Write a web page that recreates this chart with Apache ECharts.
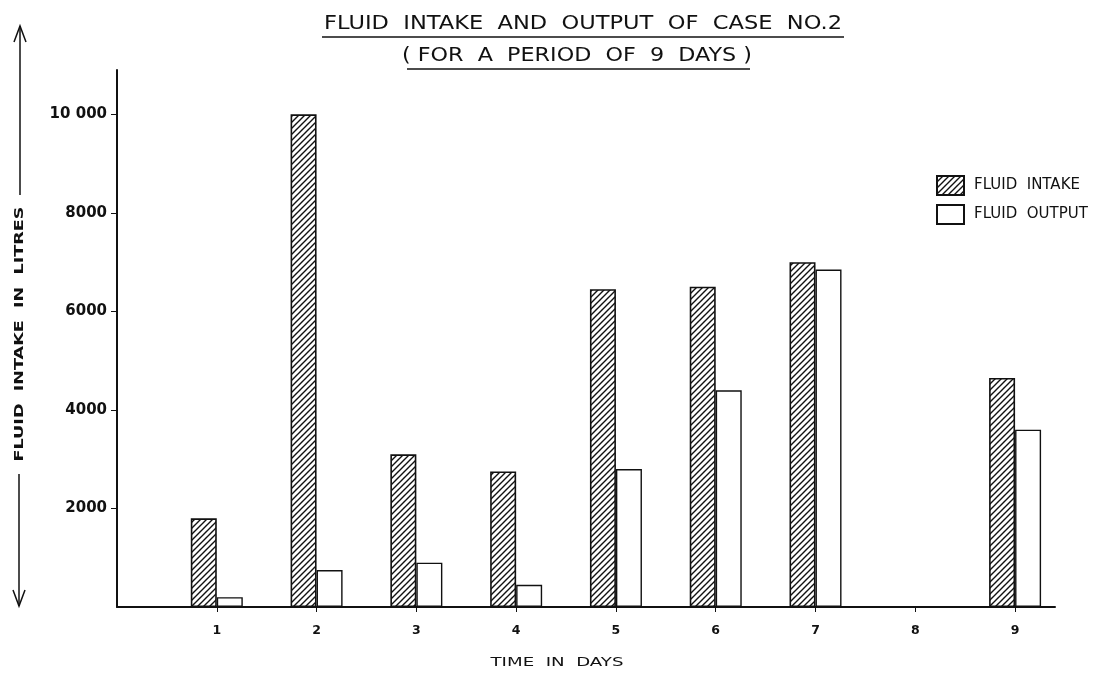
<!DOCTYPE html>
<html>
<head>
<meta charset="utf-8">
<script src="https://cdn.jsdelivr.net/npm/echarts@6/dist/echarts.min.js"></script>
<style>html,body{margin:0;padding:0;background:#fff;overflow:hidden}#c{width:1113px;height:673px}</style>
</head>
<body>
<div id="c"></div>
<script>
// ---- data ----
const days = [1, 2, 3, 4, 5, 6, 7, 8, 9];
const fluidIntake = [1800, 10000, 3100, 2750, 6450, 6500, 7000, null, 4650];
const fluidOutput = [200, 750, 900, 450, 2800, 4400, 6850, null, 3600];
const yTicks = [2000, 4000, 6000, 8000, 10000];
const yTickLabels = ['2000', '4000', '6000', '8000', '10 000'];
const xTickLabels = ['1', '2', '3', '4', '5', '6', '7', '8', '9'];
const seriesNames = ['FLUID  INTAKE', 'FLUID  OUTPUT'];
const titleText = 'FLUID  INTAKE  AND  OUTPUT  OF  CASE  NO.2';
const subtitleText = '( FOR  A  PERIOD  OF  9  DAYS )';
const yName = 'FLUID  INTAKE  IN  LITRES';
const xName = 'TIME  IN  DAYS';

// hatch pattern
const pc = document.createElement('canvas');
pc.width = 6; pc.height = 6;
const g = pc.getContext('2d');
g.fillStyle = '#fff'; g.fillRect(0, 0, 6, 6);
g.strokeStyle = '#111'; g.lineWidth = 1.4;
g.beginPath();
g.moveTo(-1, 7); g.lineTo(7, -1);
g.moveTo(-1, 1); g.lineTo(1, -1);
g.moveTo(5, 7); g.lineTo(7, 5);
g.stroke();

const font = "'DejaVu Sans', sans-serif";
// measure text to stretch lettering horizontally (style only)
const mc = document.createElement('canvas').getContext('2d');
function fitScale(text, size, weight, target) {
  mc.font = (weight || 'normal') + ' ' + size + 'px ' + font;
  return target / mc.measureText(text).width;
}
function stretchedText(text, cx, cy, size, weight, target, rot) {
  return {
    type: 'text', x: cx, y: cy, rotation: rot || 0,
    scaleX: fitScale(text, size, weight, target), scaleY: 1,
    style: {text: text, fontFamily: font, fontSize: size, fontWeight: weight || 'normal',
            fill: '#111', align: 'center', verticalAlign: 'middle'}
  };
}

const chart = echarts.init(document.getElementById('c'), null, {renderer: 'canvas'});

const arrowY1 = 26, arrowY2 = 606;
chart.setOption({
  backgroundColor: '#ffffff',
  animation: false,
  legend: {
    orient: 'vertical', left: 931, top: 170, itemWidth: 27, itemHeight: 19, itemGap: 8,
    icon: 'rect',
    textStyle: {fontFamily: font, fontSize: 15, color: '#111', padding: [0, 0, 0, 5]},
    data: seriesNames
  },
  grid: {left: 117, right: 58, top: 70, bottom: 66, outerBoundsMode: 'none', containLabel: false},
  xAxis: {
    type: 'value', min: 0, max: 9.4,
    axisLine: {show: true, lineStyle: {color: '#111', width: 2}},
    axisTick: {show: true, customValues: days, length: 5, lineStyle: {color: '#111', width: 1}},
    axisLabel: {customValues: days, margin: 17, fontFamily: font, fontSize: 12.5, fontWeight: 'bold', color: '#111',
      formatter: v => xTickLabels[days.indexOf(v)] || ''},
    splitLine: {show: false}
  },
  yAxis: {
    type: 'value', min: 0, max: 10900,
    axisLine: {show: true, lineStyle: {color: '#111', width: 2}},
    axisTick: {show: true, customValues: yTicks, length: 6, lineStyle: {color: '#111', width: 1}},
    axisLabel: {customValues: yTicks, margin: 10, fontFamily: font, fontSize: 15, fontWeight: 'bold', color: '#111',
      formatter: v => yTickLabels[yTicks.indexOf(v)] || ''},
    splitLine: {show: false}
  },
  series: [
    {name: seriesNames[0], type: 'bar', barWidth: 26, barGap: '0%',
     itemStyle: {color: {image: pc, repeat: 'repeat'}, borderColor: '#111', borderWidth: 1.6},
     data: days.map((d, i) => [d, fluidIntake[i]])},
    {name: seriesNames[1], type: 'bar', barWidth: 26, barGap: '0%',
     itemStyle: {color: '#ffffff', borderColor: '#111', borderWidth: 1.4},
     data: days.map((d, i) => [d, fluidOutput[i]])}
  ],
  graphic: [
    stretchedText(titleText, 583, 24, 19, 'normal', 518),
    stretchedText(subtitleText, 577, 56, 19, 'normal', 350),
    {type: 'line', shape: {x1: 322, y1: 37, x2: 844, y2: 37}, style: {stroke: '#111', lineWidth: 1.5}},
    {type: 'line', shape: {x1: 407, y1: 69, x2: 750, y2: 69}, style: {stroke: '#111', lineWidth: 1.5}},
    stretchedText(yName, 20, 334, 13, 'bold', 255, Math.PI / 2),
    stretchedText(xName, 557, 663, 13, 'normal', 133),
    {type: 'polyline', shape: {points: [[20, 195], [20, arrowY1]]}, style: {stroke: '#111', lineWidth: 1.5, fill: null}},
    {type: 'polyline', shape: {points: [[14, arrowY1 + 16], [20, arrowY1], [26, arrowY1 + 16]]}, style: {stroke: '#111', lineWidth: 1.5, fill: null}},
    {type: 'polyline', shape: {points: [[19, 474], [19, arrowY2]]}, style: {stroke: '#111', lineWidth: 1.5, fill: null}},
    {type: 'polyline', shape: {points: [[13, arrowY2 - 16], [19, arrowY2], [25, arrowY2 - 16]]}, style: {stroke: '#111', lineWidth: 1.5, fill: null}}
  ]
});
</script>
</body>
</html>
